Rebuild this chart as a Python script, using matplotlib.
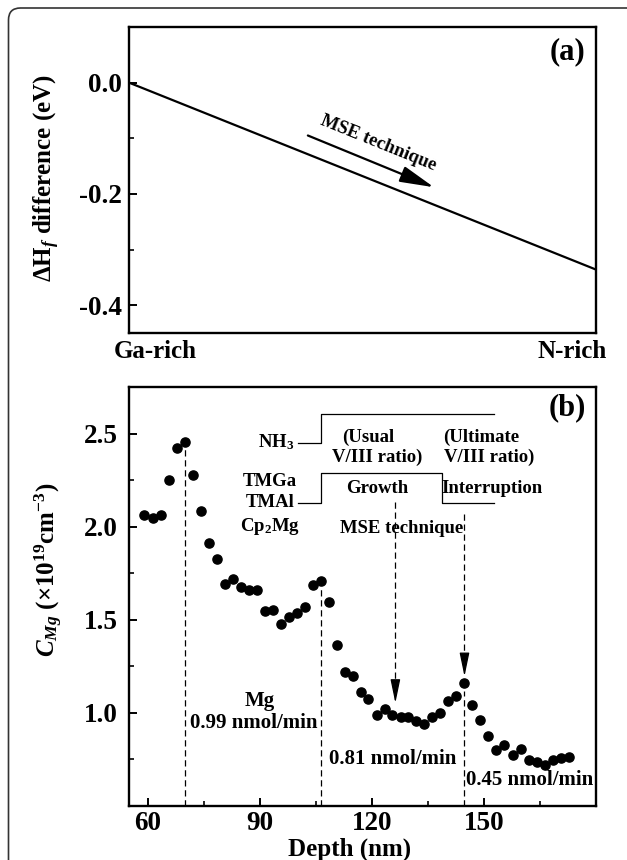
import matplotlib
matplotlib.use("Agg")
import matplotlib.pyplot as plt
from matplotlib.patches import FancyBboxPatch
from matplotlib.transforms import IdentityTransform

plt.rcParams["font.family"] = "Liberation Serif"
plt.rcParams["font.weight"] = "bold"
plt.rcParams["axes.labelweight"] = "bold"
plt.rcParams["axes.unicode_minus"] = False
plt.rcParams["mathtext.fontset"] = "custom"
plt.rcParams["mathtext.rm"] = "Liberation Serif:bold"
plt.rcParams["mathtext.it"] = "Liberation Serif:bold:italic"
plt.rcParams["mathtext.bf"] = "Liberation Serif:bold"

# --- panel (a) : formation enthalpy difference, Ga-rich -> N-rich
dh_x = [0.0, 1.0]
dh_y = [0.0, -0.336]

# --- panel (b) : Mg SIMS profile
depth = [59.1, 61.4, 63.6, 65.7, 67.9, 70.0, 72.2, 74.4, 76.4, 78.5,
         80.7, 82.9, 85.0, 87.1, 89.3, 91.4, 93.5, 95.6, 97.9, 100.0,
         102.1, 104.3, 106.4, 108.5, 110.6, 112.8, 114.9, 117.0, 119.1, 121.3,
         123.4, 125.5, 127.7, 129.8, 131.9, 134.0, 136.2, 138.3, 140.4, 142.6,
         144.7, 146.8, 148.9, 151.1, 153.2, 155.3, 157.8, 159.9, 162.0, 164.1,
         166.3, 168.4, 170.5, 172.7]
c_mg = [2.062, 2.044, 2.062, 2.251, 2.424, 2.454, 2.278, 2.085, 1.911, 1.824,
        1.694, 1.721, 1.676, 1.658, 1.662, 1.546, 1.555, 1.480, 1.516, 1.534,
        1.569, 1.688, 1.706, 1.593, 1.365, 1.219, 1.196, 1.112, 1.075, 0.986,
        1.021, 0.986, 0.980, 0.980, 0.956, 0.941, 0.980, 1.000, 1.062, 1.093,
        1.160, 1.044, 0.964, 0.875, 0.801, 0.826, 0.772, 0.804, 0.747, 0.738,
        0.719, 0.747, 0.756, 0.762]

# growth sequence (timing diagram drawn inside panel b)
nh3_x = [100.2, 106.3, 106.3, 152.7]
nh3_y = [2.447, 2.447, 2.607, 2.607]
tmga_x = [100.2, 106.3, 106.3, 138.7, 138.7, 152.7]
tmga_y = [2.127, 2.127, 2.287, 2.287, 2.127, 2.127]

# Mg flow boundaries (dashed) and MSE arrows
bound_x = [70.0, 106.4]
bound_top = [2.415, 1.671]
mse_x = [126.3, 144.8]
mse_top = [2.133, 2.068]
mse_tip = [1.053, 1.196]

fig = plt.figure(figsize=(6.27, 8.6), dpi=100)

# outer rounded frame (right and bottom edges fall outside the picture)
frame = FancyBboxPatch((8.5, -30), 640, 30 + 852,
                       boxstyle="round,pad=0,rounding_size=12",
                       transform=IdentityTransform(), fill=False,
                       ec="#333333", lw=1.2)
fig.patches.append(frame)

# ---------------- panel (a)
ax1 = fig.add_axes([129 / 627, 1 - 333 / 860, 467 / 627, 306 / 860])
ax1.plot(dh_x, dh_y, color="black", lw=1.6)
ax1.set_xlim(0, 1)
ax1.set_ylim(-0.45, 0.1)
ax1.set_yticks([0.0, -0.2, -0.4])
ax1.set_yticks([-0.1, -0.3], minor=True)
ax1.set_xticks([])
ax1.tick_params(axis="y", which="major", direction="in", length=6, width=1.4,
                labelsize=19.5, pad=5)
ax1.tick_params(axis="y", which="minor", direction="in", length=3.5, width=1.2)
for s in ax1.spines.values():
    s.set_linewidth(1.7)
ax1.set_ylabel(r"$\Delta\mathrm{H}_{f}$ difference (eV)", fontsize=18)
ax1.yaxis.set_label_coords(-0.143, 0.506)

ax1.text(-0.032, -0.062, "Ga-rich", transform=ax1.transAxes, fontsize=18,
         ha="left", va="center")
ax1.text(1.0236, -0.062, "N-rich", transform=ax1.transAxes, fontsize=18,
         ha="right", va="center")
ax1.text(0.938, 0.918, "(a)", transform=ax1.transAxes, fontsize=22,
         ha="center", va="center")

ax1.annotate("", xy=(0.653, -0.188), xytext=(0.383, -0.095),
             arrowprops=dict(arrowstyle="-|>,head_length=2.1,head_width=0.5",
                             color="black", lw=1.6, mutation_scale=10,
                             shrinkA=0, shrinkB=0))
ax1.text(0.533, -0.108, "MSE technique", fontsize=13.5, rotation=-22,
         ha="center", va="center", rotation_mode="anchor")

# ---------------- panel (b)
ax2 = fig.add_axes([129 / 627, 1 - 806 / 860, 467 / 627, 419 / 860])
ax2.plot(depth, c_mg, "o", color="black", ms=6.6)
ax2.set_xlim(55, 180)
ax2.set_ylim(0.5, 2.75)
ax2.set_xticks([60, 90, 120, 150])
ax2.set_xticks([75, 105, 135, 165], minor=True)
ax2.set_yticks([1.0, 1.5, 2.0, 2.5])
ax2.set_yticks([0.75, 1.25, 1.75, 2.25], minor=True)
ax2.tick_params(which="major", direction="in", length=6, width=1.4,
                labelsize=19.5)
ax2.tick_params(which="minor", direction="in", length=3.5, width=1.2)
ax2.tick_params(axis="x", pad=3.5)
ax2.tick_params(axis="y", pad=8)
for s in ax2.spines.values():
    s.set_linewidth(1.7)
ax2.set_ylabel(r"$C_{Mg}$ (×10$^{19}$cm$^{-3}$)", fontsize=18)
ax2.yaxis.set_label_coords(-0.137, 0.563)
ax2.text(0.473, -0.104, "Depth (nm)", transform=ax2.transAxes, fontsize=18,
         ha="center", va="center")
ax2.text(0.938, 0.95, "(b)", transform=ax2.transAxes, fontsize=22,
         ha="center", va="center")

dash = dict(color="black", lw=0.9, ls=(0, (5, 3)))
for x, top in zip(bound_x, bound_top):
    ax2.plot([x, x], [0.5, top], **dash)

for x, top, tip in zip(mse_x, mse_top, mse_tip):
    ax2.plot([x, x], [top, tip + 0.1], **dash)
    ax2.annotate("", xy=(x, tip), xytext=(x, tip + 0.12),
                 arrowprops=dict(arrowstyle="-|>,head_length=1.45,head_width=0.3",
                                 color="black", lw=0.9, mutation_scale=10,
                                 shrinkA=0, shrinkB=0))
# dashed continuation below the interruption peak
ax2.plot([mse_x[1], mse_x[1]], [0.5, 1.116], **dash)

ax2.plot(nh3_x, nh3_y, color="black", lw=0.9)
ax2.plot(tmga_x, tmga_y, color="black", lw=0.9)

fs = 13.5
fs2 = 15
ax2.text(99.4, 2.455, r"NH$_3$", fontsize=fs, ha="right", va="center")
ax2.text(92.8, 2.240, "TMGa", fontsize=fs, ha="center", va="center")
ax2.text(92.8, 2.130, "TMAl", fontsize=fs, ha="center", va="center")
ax2.text(92.8, 2.000, r"Cp$_2$Mg", fontsize=fs, ha="center", va="center")
ax2.text(119.0, 2.477, "(Usual", fontsize=fs, ha="center", va="center")
ax2.text(121.5, 2.370, "V/III ratio)", fontsize=fs, ha="center", va="center")
ax2.text(149.4, 2.477, "(Ultimate", fontsize=fs, ha="center", va="center")
ax2.text(151.3, 2.370, "V/III ratio)", fontsize=fs, ha="center", va="center")
ax2.text(121.5, 2.205, "Growth", fontsize=fs, ha="center", va="center")
ax2.text(152.2, 2.205, "Interruption", fontsize=fs, ha="center", va="center")
ax2.text(127.9, 1.991, "MSE technique", fontsize=fs, ha="center", va="center")
ax2.text(90.0, 1.062, "Mg", fontsize=fs2, ha="center", va="center")
ax2.text(88.4, 0.947, "0.99 nmol/min", fontsize=fs2, ha="center", va="center")
ax2.text(125.6, 0.754, "0.81 nmol/min", fontsize=fs2, ha="center", va="center")
ax2.text(162.1, 0.639, "0.45 nmol/min", fontsize=fs2, ha="center", va="center")

fig.savefig("out.png", dpi=100)
